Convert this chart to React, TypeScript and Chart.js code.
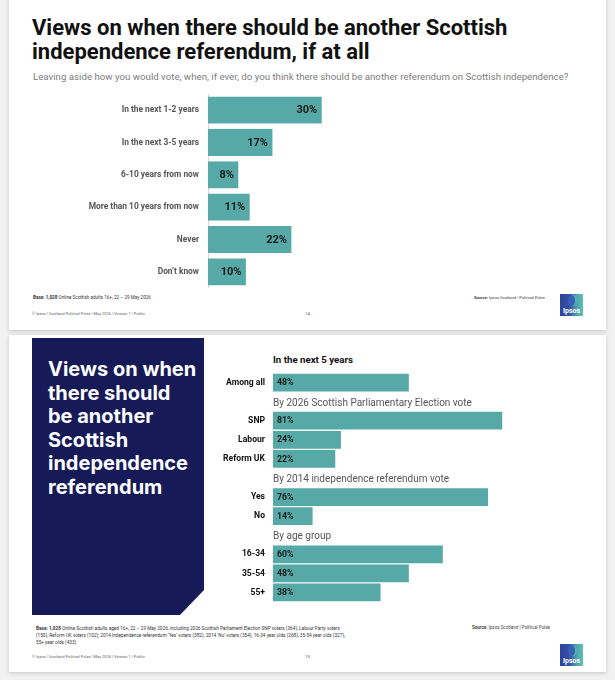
import React, { useEffect, useRef } from "react";
import { Chart, registerables } from "chart.js";

Chart.register(...registerables);

// ---------- Data ----------
const timingLabels = [
  "In the next 1-2 years",
  "In the next 3-5 years",
  "6-10 years from now",
  "More than 10 years from now",
  "Never",
  "Don’t know",
];
const timingValues = [30, 17, 8, 11, 22, 10];

const groupTitle = "In the next 5 years";
const groupLabels = ["Among all", "", "SNP", "Labour", "Reform UK", "", "Yes", "No", "", "16-34", "35-54", "55+"];
const groupValues: (number | null)[] = [48, null, 81, 24, 22, null, 76, 14, null, 60, 48, 38];
const groupHeaders = [
  "",
  "By 2026 Scottish Parliamentary Election vote",
  "",
  "",
  "",
  "By 2014 independence referendum vote",
  "",
  "",
  "By age group",
  "",
  "",
  "",
];

const TEAL = "#56a9a7";
const NAVY = "#161b58";
const FONT = "Roboto, 'Noto Sans', sans-serif";
const NARROW = "'Liberation Sans Narrow', Roboto, sans-serif";

// ---------- Plugins ----------
const rightValueLabels = {
  id: "rightValueLabels",
  afterDatasetsDraw(chart: any) {
    const { ctx } = chart;
    const meta = chart.getDatasetMeta(0);
    const data = chart.data.datasets[0].data;
    ctx.save();
    ctx.font = `bold 11px ${FONT}`;
    ctx.fillStyle = "#1a1a1a";
    ctx.textAlign = "right";
    ctx.textBaseline = "middle";
    meta.data.forEach((bar: any, i: number) => {
      const v = data[i];
      if (v == null) return;
      ctx.fillText(`${v}%`, bar.x - 4.5, bar.y + 0.5);
    });
    ctx.restore();
  },
};

const leftValueLabels = {
  id: "leftValueLabels",
  afterDatasetsDraw(chart: any) {
    const { ctx } = chart;
    const meta = chart.getDatasetMeta(0);
    const data = chart.data.datasets[0].data;
    ctx.save();
    ctx.font = `bold 8.8px ${FONT}`;
    ctx.fillStyle = "#1a1a1a";
    ctx.textAlign = "left";
    ctx.textBaseline = "middle";
    meta.data.forEach((bar: any, i: number) => {
      const v = data[i];
      if (v == null) return;
      ctx.fillText(`${v}%`, bar.base + 4, bar.y + 0.5);
    });
    ctx.restore();
  },
};

const rowHeaders = {
  id: "rowHeaders",
  afterDraw(chart: any) {
    const { ctx, chartArea } = chart;
    const yScale = chart.scales.y;
    ctx.save();
    ctx.font = `10px ${NARROW}`;
    ctx.fillStyle = "#555555";
    ctx.textAlign = "left";
    ctx.textBaseline = "middle";
    groupHeaders.forEach((h, i) => {
      if (!h) return;
      ctx.fillText(h, chartArea.left, yScale.getPixelForValue(i) + 1.5);
    });
    ctx.restore();
  },
};

const noVerticalPadding = (s: any, width: number) => {
  s.width = width;
  s.paddingTop = 0;
  s.paddingBottom = 0;
};

function TimingChart() {
  const ref = useRef<HTMLCanvasElement | null>(null);
  useEffect(() => {
    if (!ref.current) return;
    const chart = new Chart(ref.current, {
      type: "bar",
      data: {
        labels: timingLabels,
        datasets: [
          {
            data: timingValues,
            backgroundColor: TEAL,
            barPercentage: 0.83,
            categoryPercentage: 1,
          },
        ],
      },
      options: {
        indexAxis: "y",
        animation: false,
        responsive: false,
        maintainAspectRatio: false,
        layout: { padding: 0 },
        plugins: { legend: { display: false }, tooltip: { enabled: false } },
        scales: {
          x: { display: false, min: 0, max: 100 },
          y: {
            grid: { display: false, drawTicks: false },
            border: { display: true, color: "#d8d8d8", width: 1 },
            ticks: {
              color: "#555555",
              font: { family: FONT, size: 8.4, weight: "bold" },
              padding: 9,
            },
            afterFit: (s: any) => noVerticalPadding(s, 188),
          },
        },
      },
      plugins: [rightValueLabels],
    } as any);
    return () => chart.destroy();
  }, []);
  return (
    <canvas
      ref={ref}
      width={567}
      height={194}
      style={{ position: "absolute", left: 20, top: 94, width: 567, height: 194 }}
    />
  );
}

function GroupChart() {
  const ref = useRef<HTMLCanvasElement | null>(null);
  useEffect(() => {
    if (!ref.current) return;
    const chart = new Chart(ref.current, {
      type: "bar",
      data: {
        labels: groupLabels,
        datasets: [
          {
            data: groupValues,
            backgroundColor: TEAL,
            barPercentage: 0.93,
            categoryPercentage: 1,
          },
        ],
      },
      options: {
        indexAxis: "y",
        animation: false,
        responsive: false,
        maintainAspectRatio: false,
        layout: { padding: 0 },
        plugins: { legend: { display: false }, tooltip: { enabled: false } },
        scales: {
          x: { display: false, min: 0, max: 100 },
          y: {
            grid: { display: false, drawTicks: false },
            border: { display: false },
            ticks: {
              color: "#111111",
              font: { family: FONT, size: 8.6, weight: "bold" },
              padding: 8,
            },
            afterFit: (s: any) => noVerticalPadding(s, 73),
          },
        },
      },
      plugins: [leftValueLabels, rowHeaders],
    } as any);
    return () => chart.destroy();
  }, []);
  return (
    <canvas
      ref={ref}
      width={356}
      height={229}
      style={{ position: "absolute", left: 200, top: 373, width: 356, height: 229 }}
    />
  );
}

function IpsosLogo({ left, top }: { left: number; top: number }) {
  return (
    <div
      style={{
        position: "absolute",
        left,
        top,
        width: 23,
        height: 22,
        background: "linear-gradient(90deg,#2c449b 0%,#33509f 40%,#4fa9b0 75%,#5cc0b2 100%)",
        overflow: "hidden",
      }}
    >
      <div
        style={{
          position: "absolute",
          left: 8,
          top: 1,
          width: 7,
          height: 11,
          borderRadius: "50% 50% 45% 45%",
          background: "#3a5fb4",
          boxShadow: "2px 0 0 #4fb3ae",
        }}
      />
      <div
        style={{
          position: "absolute",
          left: 0,
          right: 0,
          bottom: 1,
          textAlign: "center",
          color: "#ffffff",
          font: `bold 7px ${FONT}`,
          lineHeight: "8px",
        }}
      >
        Ipsos
      </div>
    </div>
  );
}

const abs = (o: any) => ({ position: "absolute" as const, ...o });

export default function App() {
  return (
    <div
      style={{
        position: "fixed",
        left: 0,
        top: 0,
        width: 615,
        height: 680,
        background: "#f1f1f1",
        overflow: "hidden",
        fontFamily: FONT,
      }}
    >
      {/* cards */}
      <div style={abs({ left: 9, top: -6, width: 597, height: 336, background: "#fff", boxShadow: "0 1px 4px rgba(0,0,0,0.18)" })} />
      <div style={abs({ left: 9, top: 335, width: 597, height: 337, background: "#fff", boxShadow: "0 1px 4px rgba(0,0,0,0.18)" })} />

      {/* ---------- Slide 1 ---------- */}
      <div
        style={abs({
          left: 32,
          top: 16,
          width: 570,
          font: `bold 22px ${FONT}`,
          lineHeight: "24px",
          color: "#111",
        })}
      >
        Views on when there should be another Scottish
        <br />
        independence referendum, if at all
      </div>
      <div style={abs({ left: 33, top: 70, whiteSpace: "nowrap", font: `9.7px ${FONT}`, lineHeight: "13px", color: "#7d7d7d" })}>
        Leaving aside how you would vote, when, if ever, do you think there should be another referendum on Scottish independence?
      </div>

      <TimingChart />

      <div style={abs({ left: 33, top: 295, whiteSpace: "nowrap", font: `4.6px ${FONT}`, lineHeight: "6px", color: "#333" })}>
        <b>Base: 1,028</b> Online Scottish adults 16+, 22 – 29 May 2026
      </div>
      <div style={abs({ left: 474, top: 295, whiteSpace: "nowrap", font: `4.1px ${FONT}`, lineHeight: "6px", color: "#444" })}>
        <b>Source:</b> Ipsos Scotland | Political Pulse
      </div>
      <div style={abs({ left: 32, top: 311, whiteSpace: "nowrap", font: `4px ${FONT}`, lineHeight: "6px", color: "#666" })}>
        © Ipsos | Scotland Political Pulse | May 2026 | Version 1 | Public
      </div>
      <div style={abs({ left: 305, top: 311, font: `4.4px ${FONT}`, lineHeight: "6px", color: "#555" })}>14</div>
      <IpsosLogo left={560} top={294} />

      {/* ---------- Slide 2 ---------- */}
      <div
        style={abs({
          left: 32,
          top: 338,
          width: 172,
          height: 277,
          background: NAVY,
          clipPath: "polygon(0 0, 100% 0, 100% 252px, 148px 100%, 0 100%)",
        })}
      />
      <div
        style={abs({
          left: 48,
          top: 358,
          width: 160,
          font: `bold 20px Inter, ${FONT}`,
          lineHeight: "23.6px",
          color: "#ffffff",
        })}
      >
        Views on when
        <br />
        there should
        <br />
        be another
        <br />
        Scottish
        <br />
        independence
        <br />
        referendum
      </div>

      <div style={abs({ left: 273, top: 353, whiteSpace: "nowrap", font: `bold 9.7px ${FONT}`, lineHeight: "14px", color: "#111" })}>
        {groupTitle}
      </div>

      <GroupChart />

      <div style={abs({ left: 36, top: 625, font: `4.7px ${FONT}`, lineHeight: "7px", color: "#333", whiteSpace: "nowrap" })}>
        <b>Base: 1,028</b> Online Scottish adults aged 16+, 22 – 29 May 2026, including 2026 Scottish Parliament Election SNP voters (364), Labour Party voters
        <br />
        (150), Reform UK voters (102); 2014 Independence referendum ‘Yes’ voters (382), 2014 ‘No’ voters (354); 16-34 year olds (268), 35-54 year olds (327),
        <br />
        55+ year olds (433).
      </div>
      <div style={abs({ left: 472, top: 625, whiteSpace: "nowrap", font: `4.5px ${FONT}`, lineHeight: "6px", color: "#444" })}>
        <b>Source:</b> Ipsos Scotland | Political Pulse
      </div>
      <div style={abs({ left: 32, top: 654, whiteSpace: "nowrap", font: `4px ${FONT}`, lineHeight: "6px", color: "#666" })}>
        © Ipsos | Scotland Political Pulse | May 2026 | Version 1 | Public
      </div>
      <div style={abs({ left: 305, top: 654, font: `4.4px ${FONT}`, lineHeight: "6px", color: "#555" })}>15</div>
      <IpsosLogo left={560} top={644} />
    </div>
  );
}
